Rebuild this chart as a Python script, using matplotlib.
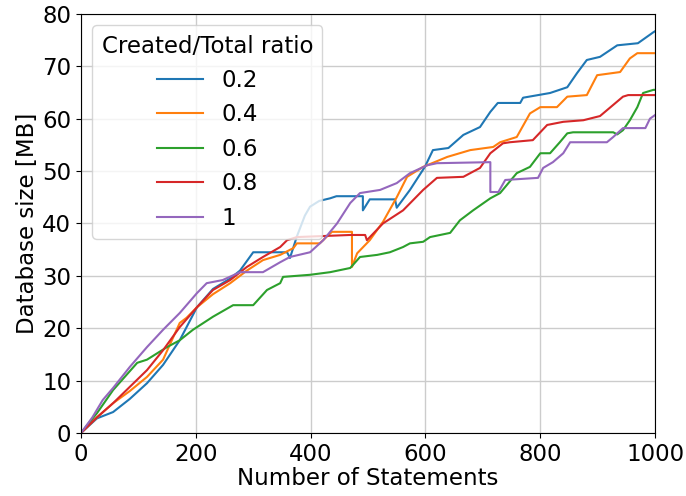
import matplotlib
matplotlib.use("Agg")
import matplotlib.pyplot as plt

labels = ["0.2", "0.4", "0.6", "0.8", "1"]

x_02 = [0, 28, 56, 85, 115, 143, 172, 202, 230, 260, 277, 300, 329, 359, 364, 376, 390, 399, 415, 434, 445, 491, 491, 503, 547, 550, 573, 599, 613, 640, 666, 695, 713, 726, 765, 770, 817, 847, 864, 881, 904, 934, 970, 997, 1000]
y_02 = [0, 2.8, 4, 6.5, 9.5, 13, 17.7, 24, 27.5, 29.5, 31, 34.5, 34.5, 34.5, 33.4, 37.5, 41.5, 43.2, 44.3, 44.8, 45.2, 45.2, 42.5, 44.6, 44.6, 43, 46.4, 50.8, 54, 54.4, 56.9, 58.4, 61.3, 63, 63, 64, 64.9, 66, 68.7, 71.2, 71.8, 74, 74.4, 76.5, 76.7]

x_04 = [0, 28, 56, 85, 115, 143, 172, 184, 202, 230, 260, 289, 317, 347, 370, 376, 416, 437, 472, 472, 481, 503, 526, 550, 568, 596, 638, 678, 718, 730, 759, 782, 800, 829, 847, 881, 899, 939, 956, 969, 1000]
y_04 = [0, 3, 5.7, 8, 10.7, 14, 21, 22, 24, 26.5, 28.6, 31, 33, 34, 35.3, 36.2, 36.2, 38.4, 38.4, 31.7, 34.3, 36.8, 40.3, 45, 48.9, 50.8, 52.7, 54, 54.6, 55.5, 56.5, 61, 62.2, 62.2, 64.2, 64.5, 68.3, 68.9, 71.5, 72.5, 72.5]

x_06 = [0, 28, 56, 98, 115, 150, 172, 195, 230, 265, 300, 324, 347, 352, 399, 434, 469, 486, 516, 538, 561, 573, 596, 608, 643, 660, 683, 713, 730, 759, 782, 800, 817, 834, 847, 857, 927, 934, 944, 956, 969, 979, 997, 1000]
y_06 = [0, 3.8, 8.2, 13.4, 14, 16.4, 17.7, 19.7, 22.2, 24.4, 24.4, 27.3, 28.6, 29.8, 30.2, 30.7, 31.5, 33.6, 34, 34.5, 35.5, 36.2, 36.5, 37.4, 38.2, 40.6, 42.5, 44.8, 45.8, 49.6, 50.8, 53.4, 53.4, 55.5, 57.2, 57.4, 57.4, 57, 57.8, 59.7, 62.2, 64.9, 65.5, 65.5]

x_08 = [0, 28, 56, 85, 115, 143, 172, 202, 230, 260, 289, 317, 347, 359, 376, 469, 495, 498, 526, 561, 596, 620, 666, 695, 713, 735, 747, 787, 812, 840, 875, 904, 944, 953, 1000]
y_08 = [0, 3, 5.7, 8.8, 12, 15.8, 20.2, 24, 27.3, 29.2, 31.7, 33.6, 35.5, 36.8, 37.4, 37.8, 37.8, 36.8, 40, 42.5, 46.4, 48.7, 48.9, 50.6, 53.4, 55.3, 55.5, 55.9, 58.8, 59.4, 59.7, 60.5, 64.2, 64.5, 64.5]

x_1 = [0, 20, 38, 56, 85, 115, 143, 172, 202, 219, 247, 277, 317, 347, 364, 399, 422, 446, 469, 486, 521, 550, 573, 603, 620, 713, 713, 727, 739, 796, 805, 822, 840, 852, 916, 927, 944, 983, 991, 1000]
y_1 = [0, 3, 6.3, 8.6, 12.6, 16.4, 19.7, 22.9, 26.7, 28.6, 29.2, 30.7, 30.7, 32.6, 33.6, 34.5, 36.8, 40, 43.9, 45.8, 46.4, 47.7, 49.6, 51.1, 51.5, 51.7, 46, 46, 48.3, 48.7, 50.6, 51.7, 53.4, 55.5, 55.5, 56.5, 58.2, 58.2, 60, 60.7]

series = [(x_02, y_02), (x_04, y_04), (x_06, y_06), (x_08, y_08), (x_1, y_1)]

fs = 16.5
fig = plt.figure(figsize=(6.86, 4.96), dpi=100)
ax = fig.add_axes([0.118, 0.127, 0.837, 0.845])
for (xs, ys), lab in zip(series, labels):
    ax.plot(xs, ys, label=lab, linewidth=1.5)

ax.set_xlim(0, 1000)
ax.set_ylim(0, 80)
ax.set_xticks([0, 200, 400, 600, 800, 1000])
ax.set_yticks([0, 10, 20, 30, 40, 50, 60, 70, 80])
ax.grid(True, color="#cccccc", linewidth=1)
ax.tick_params(labelsize=fs)
ax.set_xlabel("Number of Statements", fontsize=fs, labelpad=1)
ax.set_ylabel("Database size [MB]", fontsize=fs, labelpad=2)
leg = ax.legend(title="Created/Total ratio", fontsize=fs, title_fontsize=fs,
                loc="upper left", framealpha=0.8)
fig.savefig("out.png", dpi=100)
